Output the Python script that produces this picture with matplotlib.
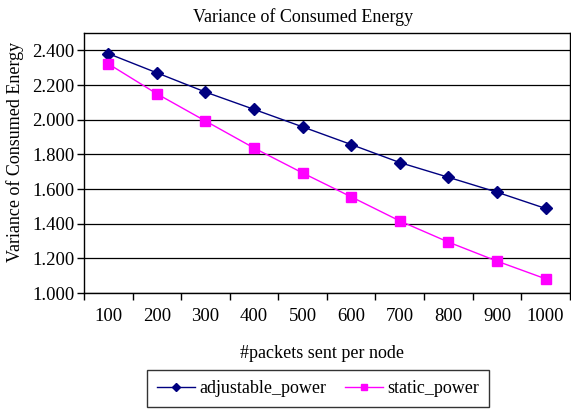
import numpy as np
import matplotlib
matplotlib.use("Agg")
from matplotlib import pyplot as plt
from matplotlib.ticker import FixedLocator, FormatStrFormatter

matplotlib.rcParams.update({'font.family': 'Liberation Serif', 'font.size': 13})

# --- data ---
packets = ['100', '200', '300', '400', '500', '600', '700', '800', '900', '1000']
adjustable_power = [2.382, 2.271, 2.160, 2.060, 1.959, 1.857, 1.753, 1.668, 1.582, 1.488]
static_power = [2.323, 2.150, 1.993, 1.837, 1.693, 1.555, 1.416, 1.294, 1.184, 1.082]

x = np.arange(len(packets))

fig = plt.figure(figsize=(5.71, 4.09), dpi=100)
ax = fig.add_axes([0.147, 0.2836, 0.851, 0.6354])

ax.plot(x, adjustable_power, '-D', color='#000080', markersize=6, linewidth=1,
        label='adjustable_power')
ax.plot(x, static_power, '-s', color='#FF00FF', markersize=6.5, linewidth=1,
        label='static_power')

# axes / grid (Excel look)
ax.set_xlim(-0.5, len(packets) - 0.5)
ax.set_ylim(1.0, 2.5)
ax.yaxis.set_major_locator(FixedLocator(np.arange(1.0, 2.41, 0.2)))
ax.yaxis.set_major_formatter(FormatStrFormatter('%.3f'))
ax.grid(axis='y', color='black', linewidth=0.9)
ax.set_axisbelow(True)

ax.set_xticks(x)
ax.set_xticklabels(packets)
ax.set_xticks(np.arange(-0.5, len(packets), 1.0), minor=True)
ax.tick_params(axis='x', which='major', length=0, pad=11, labelsize=13.5)
ax.tick_params(axis='x', which='minor', length=5, width=1, direction='out')
ax.tick_params(axis='y', length=5, width=1, direction='out', pad=2, labelsize=13.5)

for s in ax.spines.values():
    s.set_linewidth(1)
    s.set_color('black')

ax.set_title("Variance of Consumed Energy", fontsize=13, x=0.45, pad=8)
ax.set_ylabel("Variance of Consumed Energy")
ax.yaxis.set_label_coords(-0.123, 0.542)
ax.set_xlabel("#packets sent per node")
ax.xaxis.set_label_coords(0.489, -0.2)

leg = fig.legend(loc='lower center', bbox_to_anchor=(0.557, 0.0), ncol=2,
                 frameon=True, fancybox=False, edgecolor='black',
                 handlelength=2.1, columnspacing=1.0, borderpad=0.55,
                 borderaxespad=0.1, handletextpad=0.25, markerscale=0.75)
leg.get_frame().set_linewidth(1)

fig.savefig('out.png', dpi=100)
